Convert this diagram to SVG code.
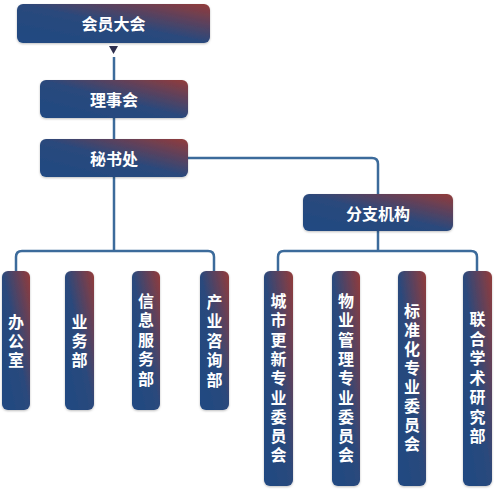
<svg xmlns="http://www.w3.org/2000/svg" width="494" height="490" viewBox="0 0 494 490">
<defs>
<linearGradient id="g" x1="0" y1="1" x2="1" y2="0">
<stop offset="0" stop-color="#1f4a82"/>
<stop offset="0.5" stop-color="#2a487c"/>
<stop offset="1" stop-color="#933b3a"/>
</linearGradient>
<filter id="sh" x="-20%" y="-20%" width="140%" height="140%">
<feDropShadow dx="0" dy="1" stdDeviation="1" flood-color="#000" flood-opacity="0.25"/>
</filter>
</defs>
<style>
.box{fill:url(#g);filter:url(#sh);}
.t{font-family:"Noto Sans CJK SC","Noto Sans",sans-serif;font-weight:bold;font-size:16px;fill:#fff;text-anchor:middle;dominant-baseline:central;}
.c{fill:none;stroke:#3c6b9b;stroke-width:2.5;}
</style>
<rect width="494" height="490" fill="#fff"/>
<g id="connectors">
<polygon points="109,46 118,46 113.5,54" fill="#2e2f4e"/>
<path class="c" d="M114,57 V80"/>
<path class="c" d="M114,118 V139"/>
<path class="c" d="M188,158 H372 Q378,158 378,164 V194"/>
<path class="c" d="M114,177 V251"/>
<path class="c" d="M16,271 V257 Q16,251 22,251 H208 Q214,251 214,257 V271"/>
<path class="c" d="M378,231 V251"/>
<path class="c" d="M278,271 V257 Q278,251 284,251 H471 Q477,251 477,257 V271"/>
</g>
<g id="n-huiyuan">
<rect class="box" x="17" y="4" width="193" height="39" rx="6"/>
<text class="t" x="113.5" y="23">会员大会</text>
</g>
<g id="n-lishi">
<rect class="box" x="40" y="80" width="148" height="38" rx="6"/>
<text class="t" x="114" y="99">理事会</text>
</g>
<g id="n-mishu">
<rect class="box" x="40" y="139" width="148" height="38" rx="6"/>
<text class="t" x="114" y="158">秘书处</text>
</g>
<g id="n-fenzhi">
<rect class="box" x="303" y="194" width="150" height="37" rx="6"/>
<text class="t" x="378" y="212.5">分支机构</text>
</g>
<g id="n-bangong">
<rect class="box" x="2" y="271" width="28" height="139" rx="6"/>
<text class="t"><tspan x="16" y="320.5">办</tspan><tspan x="16" y="339.8">公</tspan><tspan x="16" y="359.1">室</tspan></text>
</g>
<g id="n-yewu">
<rect class="box" x="65" y="271" width="29" height="139" rx="6"/>
<text class="t"><tspan x="79.5" y="320.5">业</tspan><tspan x="79.5" y="339.8">务</tspan><tspan x="79.5" y="359.1">部</tspan></text>
</g>
<g id="n-xinxi">
<rect class="box" x="132" y="271" width="28" height="139" rx="6"/>
<text class="t"><tspan x="146" y="299.5">信</tspan><tspan x="146" y="319">息</tspan><tspan x="146" y="338.5">服</tspan><tspan x="146" y="358">务</tspan><tspan x="146" y="377.5">部</tspan></text>
</g>
<g id="n-chanye">
<rect class="box" x="200" y="271" width="29" height="139" rx="6"/>
<text class="t"><tspan x="214.5" y="300.5">产</tspan><tspan x="214.5" y="320">业</tspan><tspan x="214.5" y="339.5">咨</tspan><tspan x="214.5" y="359">询</tspan><tspan x="214.5" y="378.5">部</tspan></text>
</g>
<g id="n-chengshi">
<rect class="box" x="264" y="271" width="29" height="215" rx="6"/>
<text class="t"><tspan x="278.5" y="300">城</tspan><tspan x="278.5" y="319.3">市</tspan><tspan x="278.5" y="338.6">更</tspan><tspan x="278.5" y="357.9">新</tspan><tspan x="278.5" y="377.2">专</tspan><tspan x="278.5" y="396.5">业</tspan><tspan x="278.5" y="415.8">委</tspan><tspan x="278.5" y="435.1">员</tspan><tspan x="278.5" y="454.4">会</tspan></text>
</g>
<g id="n-wuye">
<rect class="box" x="332" y="271" width="28" height="215" rx="6"/>
<text class="t"><tspan x="346" y="300">物</tspan><tspan x="346" y="319.3">业</tspan><tspan x="346" y="338.6">管</tspan><tspan x="346" y="357.9">理</tspan><tspan x="346" y="377.2">专</tspan><tspan x="346" y="396.5">业</tspan><tspan x="346" y="415.8">委</tspan><tspan x="346" y="435.1">员</tspan><tspan x="346" y="454.4">会</tspan></text>
</g>
<g id="n-biaozhun">
<rect class="box" x="398" y="271" width="28" height="215" rx="6"/>
<text class="t"><tspan x="412" y="310">标</tspan><tspan x="412" y="329">准</tspan><tspan x="412" y="348">化</tspan><tspan x="412" y="367">专</tspan><tspan x="412" y="386">业</tspan><tspan x="412" y="405">委</tspan><tspan x="412" y="424">员</tspan><tspan x="412" y="443">会</tspan></text>
</g>
<g id="n-lianhe">
<rect class="box" x="463" y="271" width="29" height="215" rx="6"/>
<text class="t"><tspan x="477.5" y="318">联</tspan><tspan x="477.5" y="337.5">合</tspan><tspan x="477.5" y="357">学</tspan><tspan x="477.5" y="376.5">术</tspan><tspan x="477.5" y="396">研</tspan><tspan x="477.5" y="415.5">究</tspan><tspan x="477.5" y="435">部</tspan></text>
</g>
</svg>
